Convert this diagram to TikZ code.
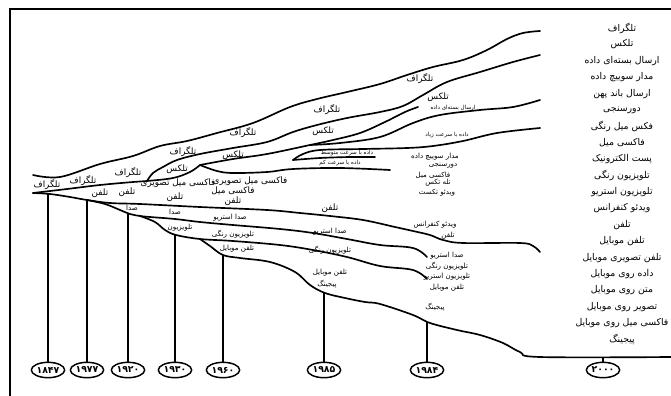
\documentclass[tikz,border=0pt]{standalone}
\usepackage{fontspec}
\newfontfamily\fa[Script=Arabic]{DejaVu Sans}
\newfontfamily\fanum{DejaVu Sans}
\TeXXeTstate=1
\usetikzlibrary{shapes.geometric}
\tikzset{
  curve/.style   ={line width=1.25pt, line cap=round, line join=round},
  stem/.style    ={line width=1.2pt},
  frameline/.style={line width=1.2pt},
  biglbl/.style  ={font=\fa\fontsize{6.6}{7}\selectfont, inner sep=0.4pt},
  midlbl/.style  ={font=\fa\fontsize{5.3}{6}\selectfont, inner sep=0.4pt},
  smalllbl/.style={font=\fa\fontsize{4.2}{5}\selectfont, inner sep=0.3pt},
  collbl/.style  ={font=\fa\fontsize{7}{8}\selectfont, inner sep=0.4pt},
  year/.style    ={draw, ellipse, line width=1.1pt, minimum width=25pt, minimum height=11.5pt,
                   inner sep=0pt, font=\fanum\bfseries\fontsize{7}{8}\selectfont},
}
\newcommand{\rl}[1]{\beginR #1\endR}

\begin{document}
\begin{tikzpicture}[x=0.75pt,y=-0.75pt]
  \useasboundingbox (0,0) rectangle (671,396);
  \draw[frameline] (10,396) -- (10,9) -- (671,9);

  % branch points
  \coordinate (junc) at (33,193);
  \coordinate (ptel) at (147,181);
  \coordinate (ptlx) at (200,165);
  \coordinate (ploop) at (293,160);
  \coordinate (pdata) at (310,145);
  \coordinate (pradio) at (87,200);
  \coordinate (ptv) at (140,216);
  \coordinate (pmob) at (200,239);

  % upper lines
  \draw[curve] plot[smooth, tension=0.6] coordinates {(33,175) (60,177) (100,164) (133,156) (160,146) (187,141) (217,133) (253,123) (290,107) (317,99) (347,92) (380,84) (407,75) (433,67) (463,60) (487,50) (507,39) (523,33) (540,31)};
  \draw[curve] plot[smooth, tension=0.6] coordinates {(junc) (67,189) (100,185) (133,182) (ptel) (173,178) (190,172) (ptlx)};
  \draw[curve] plot[smooth, tension=0.6] coordinates {(ptel) (153,173) (163,167) (177,160) (200,154) (233,148) (267,142) (293,132) (317,125) (347,118) (380,112) (403,106) (423,95) (447,82) (480,72) (513,62) (540,55)};
  \draw[curve] plot[smooth, tension=0.6] coordinates {(ptlx) (233,159) (267,154) (pdata) (333,140) (360,133) (385,122) (405,112) (418,107)};
  \draw[curve] plot[smooth, tension=0.6] coordinates {(pdata) (340,143) (380,137) (413,123) (440,115) (480,110) (513,107) (540,100)};
  \draw[curve] plot[smooth, tension=0.6] coordinates {(ploop) (303,154) (320,150) (363,149) (407,148) (433,146) (463,141) (497,133) (540,128)};
  \draw[curve] plot[smooth, tension=0.6] coordinates {(ploop) (320,158) (350,157) (375,157)};
  \draw[curve] plot[smooth, tension=0.6] coordinates {(ptlx) (217,171) (233,173) (267,172) (293,169) (340,168) (390,170)};

  % lower lines
  \draw[curve] plot[smooth, tension=0.6] coordinates {(junc) (50,194) (70,197) (pradio) (110,203) (140,204) (200,207) (267,210) (300,213) (330,216) (363,220) (395,227) (413,231) (430,235) (443,240) (463,243) (520,243) (533,246) (540,252)};
  \draw[curve] plot[smooth, tension=0.6] coordinates {(pradio) (105,204) (120,210) (130,214) (ptv) (150,217) (175,219) (200,222) (233,225) (280,229) (313,233) (347,239) (380,245) (413,248) (427,257)};
  \draw[curve] plot[smooth, tension=0.6] coordinates {(ptv) (155,222) (165,230) (176,235) (pmob) (233,241) (280,245) (313,250) (347,257) (380,266) (413,270) (427,279)};
  \draw[curve] plot[smooth, tension=0.6] coordinates {(pmob) (210,246) (223,255) (240,258) (270,262) (295,272) (310,285) (325,293) (345,298) (365,302) (380,304) (413,315) (430,323) (457,330) (480,335) (503,343) (520,352) (540,357) (671,357)};

  % years
  \node[year] (y1847) at (48,370)  {۱۸۴۷};
  \node[year] (y1977) at (87,370)  {۱۹۷۷};
  \node[year] (y1920) at (128,370) {۱۹۲۰};
  \node[year] (y1930) at (175,370) {۱۹۳۰};
  \node[year] (y1960) at (223,370) {۱۹۶۰};
  \node[year] (y1985) at (324,370) {۱۹۸۵};
  \node[year] (y1984) at (427,370) {۱۹۸۴};
  \node[year] (y2000) at (603,370) {۲۰۰۰};
  \draw[stem] (48,193)  -- (y1847);
  \draw[stem] (pradio)  -- (y1977);
  \draw[stem] (128,214) -- (y1920);
  \draw[stem] (175,235) -- (y1930);
  \draw[stem] (223,255) -- (y1960);
  \draw[stem] (324,293) -- (y1985);
  \draw[stem] (427,322) -- (y1984);
  \draw[stem] (603,357) -- (y2000);

  % labels along the lines
  \node[biglbl] (tg1) at (47,185)  {\rl{تلگراف}};
  \node[biglbl] (tg2) at (83,181)  {\rl{تلگراف}};
  \node[biglbl] (tg3) at (128,173) {\rl{تلگراف}};
  \node[biglbl] (tg4) at (183,152) {\rl{تلگراف}};
  \node[biglbl] (tg5) at (243,133) {\rl{تلگراف}};
  \node[biglbl] (tg6) at (327,110) {\rl{تلگراف}};
  \node[biglbl] (tg7) at (420,79)  {\rl{تلگراف}};
  \node[biglbl] (tx1) at (177,169) {\rl{تلکس}};
  \node[biglbl] (tx2) at (233,155) {\rl{تلکس}};
  \node[biglbl] (tx3) at (323,131) {\rl{تلکس}};
  \node[biglbl] (tx4) at (438,97)  {\rl{تلکس}};
  \node[biglbl] (tf1) at (100,193) {\rl{تلفن}};
  \node[biglbl] (tf2) at (127,192) {\rl{تلفن}};
  \node[biglbl] (fx1) at (178,183) {\rl{فاکسی میل تصویری}};
  \node[biglbl] (tf3) at (175,197) {\rl{تلفن}};
  \node[biglbl] (fx2) at (250,181) {\rl{فاکسی میل تصویری}};
  \node[biglbl] (fx3) at (233,191) {\rl{فاکسی میل}};
  \node[biglbl] (tf4) at (233,201) {\rl{تلفن}};
  \node[biglbl] (tf5) at (330,208) {\rl{تلفن}};

  \node[smalllbl] (dp) at (453,108) {\rl{ارسال بسته‌ای داده}};
  \node[smalllbl] (dh) at (447,135) {\rl{داده با سرعت زیاد}};
  \node[smalllbl] (dm) at (347,153) {\rl{داده با سرعت متوسط}};
  \node[smalllbl] (dl) at (340,163) {\rl{داده با سرعت کم}};

  \node[midlbl] (ra1) at (132,208) {\rl{صدا}};
  \node[midlbl] (ra2) at (175,212) {\rl{صدا}};
  \node[midlbl] (ra3) at (230,218) {\rl{صدا استریو}};
  \node[midlbl] (ra4) at (330,232) {\rl{صدا استریو}};
  \node[midlbl] (tv1) at (180,228) {\rl{تلویزیون}};
  \node[midlbl] (tv2) at (233,234) {\rl{تلویزیون رنگی}};
  \node[midlbl] (tv3) at (330,250) {\rl{تلویزیون رنگی}};
  \node[midlbl] (mb1) at (237,249) {\rl{تلفن موبایل}};
  \node[midlbl] (mb2) at (330,273) {\rl{تلفن موبایل}};
  \node[midlbl] (pg1) at (327,284) {\rl{پیجینگ}};

  \node[midlbl] (ds1) at (435,157) {\rl{مدار سوییچ داده}};
  \node[midlbl] (ds2) at (443,166) {\rl{دورسنجی}};
  \node[midlbl] (ds3) at (433,175) {\rl{فاکسی میل}};
  \node[midlbl] (ds4) at (438,183) {\rl{تله تکس}};
  \node[midlbl] (ds5) at (437,193) {\rl{ویدئو تکست}};
  \node[midlbl] (vc1) at (435,225) {\rl{ویدئو کنفرانس}};
  \node[midlbl] (tf6) at (448,236) {\rl{تلفن}};
  \node[midlbl] (ar1) at (447,256) {\rl{صدا استریو}};
  \node[midlbl] (ar2) at (447,266) {\rl{تلویزیون رنگی}};
  \node[midlbl] (ar3) at (447,277) {\rl{تلویزیون استریو}};
  \node[midlbl] (ar4) at (447,288) {\rl{تلفن موبایل}};
  \node[midlbl] (pg2) at (435,307) {\rl{پیجینگ}};

  % services of the year 2000
  \foreach \s [count=\i] in {تلگراف, تلکس, ارسال بسته‌ای داده, مدار سوییچ داده, ارسال باند پهن,
      دورسنجی, فکس میل رنگی, فاکسی میل, پست الکترونیک, تلویزیون رنگی, تلویزیون استریو,
      ویدئو کنفرانس, تلفن, تلفن موبایل, تلفن تصویری موبایل, داده روی موبایل, متن روی موبایل,
      تصویر روی موبایل, فاکسی میل روی موبایل, پیجینگ}
    \node[collbl] (svc\i) at (622,{28+16.4*(\i-1)}) {\rl{\s}};
\end{tikzpicture}
\end{document}
